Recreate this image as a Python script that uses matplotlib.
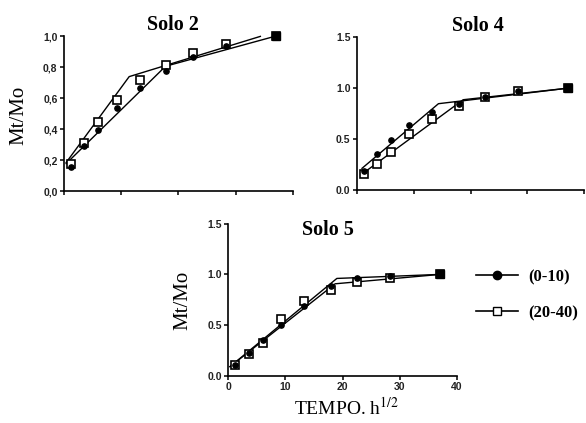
import matplotlib.pyplot as plt
from matplotlib.lines import Line2D

plt.rcParams["mathtext.fontset"] = "stix"

# tempo (h^1/2), same sampling in all soils
tempo = [1.2, 3.6, 6.0, 9.2, 13.3, 17.9, 22.6, 28.3, 37.1]

# Solo 2
s2_010 = [0.157, 0.29, 0.393, 0.536, 0.665, 0.775, 0.865, 0.94, 1.0]
s2_2040 = [0.178, 0.311, 0.45, 0.592, 0.719, 0.818, 0.893, 0.951, 1.0]
s2_fit_010_x = [0.4, 17.75, 36.8]
s2_fit_010_y = [0.178, 0.807, 1.0]
s2_fit_2040_x = [0.4, 11.4, 34.3]
s2_fit_2040_y = [0.185, 0.74, 1.0]

# Solo 4
s4_010 = [0.189, 0.352, 0.495, 0.635, 0.765, 0.84, 0.912, 0.97, 1.0]
s4_2040 = [0.156, 0.254, 0.371, 0.547, 0.70, 0.821, 0.912, 0.967, 1.0]
s4_fit_010_x = [0.9, 14.35, 37.2]
s4_fit_010_y = [0.212, 0.847, 1.0]
s4_fit_2040_x = [0.9, 18.7, 37.2]
s4_fit_2040_y = [0.156, 0.886, 1.0]

# Solo 5
s5_010 = [0.105, 0.228, 0.353, 0.50, 0.683, 0.888, 0.96, 0.983, 1.0]
s5_2040 = [0.105, 0.215, 0.327, 0.558, 0.739, 0.848, 0.921, 0.96, 1.0]
s5_fit_010_x = [0.3, 19.0, 37.1]
s5_fit_010_y = [0.089, 0.96, 1.0]
s5_fit_2040_x = [0.3, 18.7, 37.1]
s5_fit_2040_y = [0.089, 0.907, 1.0]

serif = ["Liberation Serif", "DejaVu Serif"]
sans = ["Liberation Sans", "DejaVu Sans"]

fig = plt.figure(figsize=(5.86, 4.23), dpi=100)

panels = [
    ("Solo 2", [0.109, 0.548, 0.391, 0.366], 1.0, [0, 0.2, 0.4, 0.6, 0.8, 1.0],
     ["0,0", "0,2", "0,4", "0,6", "0,8", "1,0"], False,
     s2_010, s2_2040, s2_fit_010_x, s2_fit_010_y, s2_fit_2040_x, s2_fit_2040_y),
    ("Solo 4", [0.609, 0.551, 0.388, 0.361], 1.5, [0, 0.5, 1.0, 1.5],
     ["0.0", "0.5", "1.0", "1.5"], False,
     s4_010, s4_2040, s4_fit_010_x, s4_fit_010_y, s4_fit_2040_x, s4_fit_2040_y),
    ("Solo 5", [0.3896, 0.112, 0.39, 0.359], 1.5, [0, 0.5, 1.0, 1.5],
     ["0.0", "0.5", "1.0", "1.5"], True,
     s5_010, s5_2040, s5_fit_010_x, s5_fit_010_y, s5_fit_2040_x, s5_fit_2040_y),
]

for (name, rect, ymax, yt, ytl, xlab, y1, y2, f1x, f1y, f2x, f2y) in panels:
    ax = fig.add_axes(rect)
    ax.plot(f1x, f1y, color="black", lw=1.0, clip_on=False)
    ax.plot(f2x, f2y, color="black", lw=1.0, clip_on=False)
    ax.plot(tempo, y2, ls="none", marker="s", ms=5.5, mfc="white",
            mec="black", mew=1.2, clip_on=False)
    ax.plot(tempo, y1, ls="none", marker="o", ms=3.8, color="black",
            clip_on=False)
    # last point: markers overlap into a solid square
    ax.plot(tempo[-1], y2[-1], marker="s", ms=5.5, color="black", clip_on=False)

    ax.set_xlim(0, 40)
    ax.set_ylim(0, ymax)
    ax.set_xticks([0, 10, 20, 30, 40])
    ax.set_yticks(yt)
    ax.set_yticklabels(ytl, family=sans, fontweight="bold", fontsize=7.5,
                       color="#222222")
    if xlab:
        ax.set_xticklabels(["0", "10", "20", "30", "40"], family=sans,
                           fontweight="bold", fontsize=7.5, color="#222222")
    else:
        ax.set_xticklabels([])
    ax.tick_params(direction="out", length=3, width=1.1, pad=1.5)
    for side in ["top", "right"]:
        ax.spines[side].set_visible(False)
    for side in ["left", "bottom"]:
        ax.spines[side].set_linewidth(1.2)
    ax.set_facecolor("none")

fig.text(173 / 586, 1 - 25 / 423, "Solo 2", family=serif, fontweight="bold",
         fontsize=14.5, ha="center", va="center")
fig.text(478 / 586, 1 - 26 / 423, "Solo 4", family=serif, fontweight="bold",
         fontsize=14.5, ha="center", va="center")
fig.text(328 / 586, 1 - 230 / 423, "Solo 5", family=serif, fontweight="bold",
         fontsize=14.5, ha="center", va="center")

fig.text(19 / 586, 1 - 115 / 423, "Mt/Mo", family=serif, fontsize=15,
         rotation=90, ha="center", va="center")
fig.text(183 / 586, 1 - 300 / 423, "Mt/Mo", family=serif, fontsize=15,
         rotation=90, ha="center", va="center")
fig.text(347 / 586, 1 - 408 / 423, r"TEMPO. h$^{1/2}$", family=serif,
         fontsize=14, ha="center", va="center")

handles = [
    Line2D([], [], color="black", lw=1.2, marker="o", ms=6),
    Line2D([], [], color="black", lw=1.2, marker="s", ms=5.5, mfc="white",
           mec="black", mew=1.0),
]
fig.legend(handles, ["(0-10)", "(20-40)"], loc="center left",
           bbox_to_anchor=(476 / 586, 1 - 295 / 423), frameon=False,
           borderpad=0, borderaxespad=0,
           prop={"family": serif, "weight": "bold", "size": 12},
           handlelength=2.5, handletextpad=0.65, labelspacing=1.2)

fig.savefig("out.png", dpi=100)
